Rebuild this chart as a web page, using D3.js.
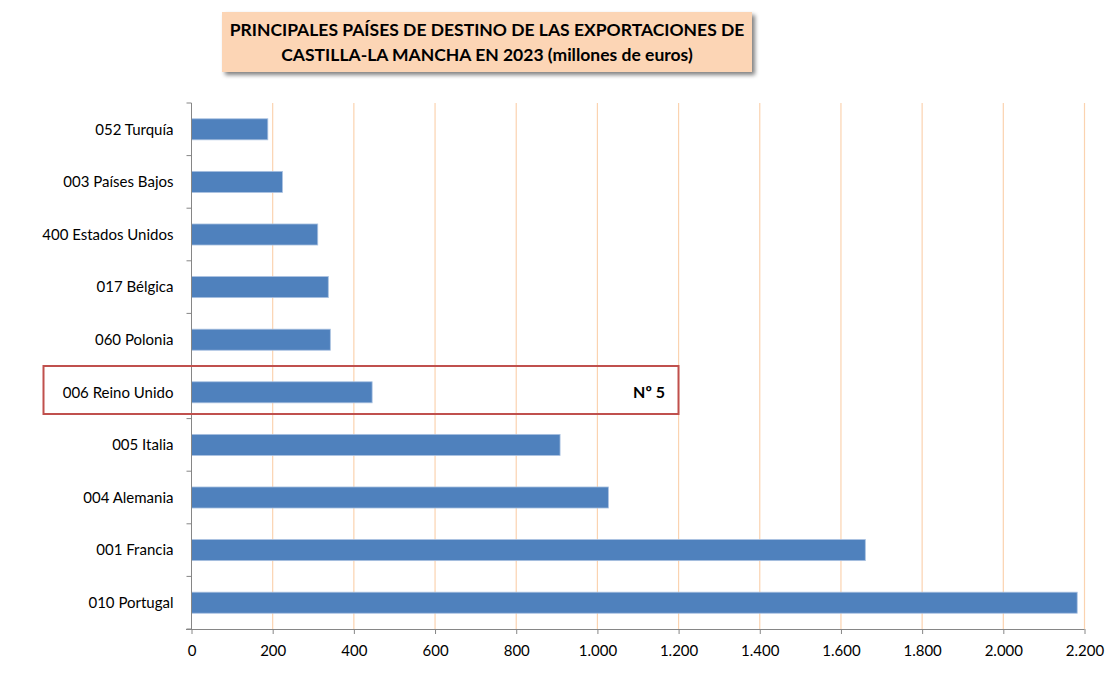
<!DOCTYPE html>
<html><head><meta charset="utf-8">
<script src="https://cdn.jsdelivr.net/npm/d3@7"></script>
<style>body{margin:0;background:#fff}svg{display:block}</style>
</head><body>
<script>
const categories = ["052 Turquía","003 Países Bajos","400 Estados Unidos","017 Bélgica","060 Polonia","006 Reino Unido","005 Italia","004 Alemania","001 Francia","010 Portugal"];
const values = [188, 224, 311, 337, 342, 445, 908, 1027, 1660, 2182];
const tickValues = [0,200,400,600,800,1000,1200,1400,1600,1800,2000,2200];
const titleLines = ["PRINCIPALES PAÍSES DE DESTINO DE LAS EXPORTACIONES DE","CASTILLA-LA MANCHA EN 2023 (millones de euros)"];
const highlight = "006 Reino Unido";
const highlightLabel = "Nº 5";

const W=1117,H=682;
const svg=d3.select("body").append("svg").attr("width",W).attr("height",H);
const font="Lato, 'Open Sans', sans-serif";
const x=d3.scaleLinear().domain([0,2200]).range([191.5,1084.5]);
const y=d3.scaleBand().domain(categories).range([103,629]).paddingInner(0.6).paddingOuter(0.3);
const band=d3.scaleBand().domain(categories).range([103,629]);

// gridlines
svg.append("g").selectAll("line").data(tickValues.slice(1)).join("line")
  .attr("x1",d=>x(d)).attr("x2",d=>x(d)).attr("y1",103).attr("y2",629)
  .attr("stroke","#FBD3B0").attr("stroke-width",1.2);

// bars
svg.append("g").selectAll("rect").data(values).join("rect")
  .attr("x",x(0)).attr("y",(d,i)=>y(categories[i]))
  .attr("width",d=>x(d)-x(0)).attr("height",y.bandwidth())
  .attr("fill","#4F81BD").attr("stroke","#A9C1E0").attr("stroke-width",0.8);

// x axis
const xa=svg.append("g").attr("transform","translate(0,629)")
  .call(d3.axisBottom(x).tickValues(tickValues).tickSize(5).tickPadding(11)
    .tickFormat(d=>d3.format(",")(d).replace(/,/g,".")));
xa.select(".domain").attr("stroke","#868686").attr("d","M186,0.5H1084.5");
xa.selectAll(".tick line").attr("stroke","#868686");
xa.selectAll("text").attr("font-family",font).attr("font-size",15).attr("fill","#000");

// y axis
const ya=svg.append("g").attr("transform","translate(191.5,0)");
ya.append("line").attr("x1",0).attr("x2",0).attr("y1",103).attr("y2",629).attr("stroke","#868686");
const bounds=categories.map(c=>band(c)).concat([629]);
ya.selectAll("line.t").data(bounds).join("line").attr("class","t")
  .attr("x1",-5).attr("x2",0).attr("y1",d=>d).attr("y2",d=>d).attr("stroke","#868686");
ya.selectAll("text").data(categories).join("text")
  .attr("x",-18).attr("y",d=>band(d)+band.bandwidth()/2).attr("dy","0.35em")
  .attr("text-anchor","end").attr("font-family",font).attr("font-size",15).attr("fill","#000")
  .text(d=>d);

// highlight box
const hb=band(highlight);
svg.append("rect").attr("x",43.5).attr("y",hb).attr("width",635).attr("height",48)
  .attr("fill","none").attr("stroke","#C0504D").attr("stroke-width",2);
svg.append("text").attr("x",665).attr("y",hb+band.bandwidth()/2).attr("dy","0.35em")
  .attr("text-anchor","end").attr("font-family",font).attr("font-weight","bold").attr("font-size",16)
  .text(highlightLabel);

// title box
const defs=svg.append("defs");
const f=defs.append("filter").attr("id","sh").attr("x","-10%").attr("y","-30%").attr("width","130%").attr("height","180%");
f.append("feGaussianBlur").attr("in","SourceAlpha").attr("stdDeviation",2);
f.append("feOffset").attr("dx",3).attr("dy",3).attr("result","b");
f.append("feComponentTransfer").append("feFuncA").attr("type","linear").attr("slope",0.5);
const m=f.append("feMerge");m.append("feMergeNode");m.append("feMergeNode").attr("in","SourceGraphic");
svg.append("rect").attr("x",222).attr("y",12).attr("width",530).attr("height",60)
  .attr("fill","#FCD5B5").attr("filter","url(#sh)");
svg.append("g").selectAll("text").data(titleLines).join("text")
  .attr("x",487).attr("y",(d,i)=>30+i*25).attr("dy","0.35em").attr("text-anchor","middle")
  .attr("font-family",font).attr("font-weight","bold").attr("font-size",17.5).attr("fill","#000")
  .text(d=>d);
</script>
</body></html>
